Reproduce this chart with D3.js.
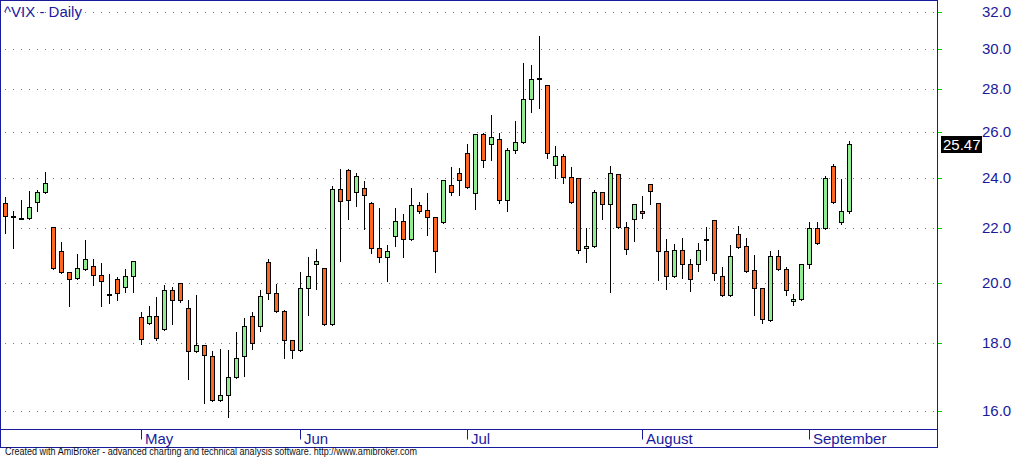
<!DOCTYPE html>
<html>
<head>
<meta charset="utf-8">
<script src="https://cdn.jsdelivr.net/npm/d3@7"></script>
<style>
  body { margin: 0; background: #fff; }
  svg { display: block; font-family: Arial, "Liberation Sans", sans-serif; }
</style>
</head>
<body>
<svg id="chart" width="1014" height="460"></svg>
<script>
// daily bars (mid April .. early September)
const opens = [
  22.97, 22.45, 22.40, 22.38, 23.02, 23.40, 22.04, 21.12, 20.37, 20.16,
  20.48, 20.61, 20.27, 19.60, 20.13, 19.85, 20.23, 18.84, 18.65, 18.87,
  18.46, 19.75, 19.99, 19.14, 17.77, 17.96, 17.62, 16.31, 16.45, 16.97,
  17.62, 18.87, 18.55, 20.75, 19.64, 19.03, 18.12, 17.80, 19.82, 20.65,
  20.54, 18.62, 23.53, 24.32, 23.40, 23.57, 22.97, 21.24, 20.93, 21.69,
  22.27, 21.58, 22.88, 22.69, 22.42, 22.23, 23.70, 24.20, 25.08, 23.36,
  25.90, 25.44, 25.67, 23.11, 25.18, 25.53, 27.51, 28.50, 28.19, 24.53,
  24.95, 24.03, 23.99, 21.24, 21.31, 23.40, 22.92, 24.15, 22.04, 22.34,
  22.65, 23.74, 22.97, 21.12, 20.23, 21.16, 20.65, 20.65, 21.57, 22.31,
  20.23, 19.57, 21.77, 21.31, 20.44, 19.82, 18.74, 20.96, 20.48, 19.37,
  19.43, 20.65, 22.00, 22.00, 24.49, 22.23, 22.65
];
const highs = [
  23.25, 22.70, 23.15, 23.50, 23.53, 24.29, 22.06, 21.51, 20.39, 21.07,
  21.59, 20.90, 20.72, 20.34, 20.24, 20.51, 20.81, 19.03, 19.26, 19.54,
  19.95, 19.89, 20.01, 19.43, 19.61, 17.98, 17.80, 17.87, 17.84, 18.38,
  18.84, 19.03, 19.78, 20.89, 19.99, 19.10, 18.15, 20.41, 20.96, 21.24,
  20.56, 23.70, 24.40, 24.40, 24.24, 23.90, 23.06, 22.80, 21.39, 22.80,
  22.57, 23.62, 23.06, 23.40, 22.44, 23.92, 24.49, 24.46, 25.49, 25.92,
  25.99, 26.82, 25.99, 25.31, 26.53, 29.36, 29.26, 30.75, 28.21, 25.40,
  25.08, 24.49, 24.01, 22.04, 23.53, 23.42, 24.53, 24.17, 22.27, 22.94,
  23.28, 23.78, 22.99, 21.62, 21.43, 21.66, 20.89, 21.47, 22.08, 22.33,
  20.61, 21.39, 22.11, 21.66, 21.03, 19.84, 21.17, 21.20, 20.61, 19.64,
  20.68, 22.27, 22.27, 24.11, 24.61, 23.99, 25.63
];
const lows = [
  21.81, 21.24, 22.38, 22.36, 22.67, 23.38, 20.49, 20.35, 19.21, 20.14,
  20.46, 19.92, 19.21, 19.30, 19.40, 19.68, 19.70, 17.99, 18.63, 18.12,
  18.43, 18.62, 19.33, 16.91, 17.75, 16.22, 16.28, 16.29, 15.83, 16.95,
  17.00, 17.83, 18.40, 19.44, 19.00, 17.55, 17.55, 17.78, 18.90, 19.78,
  18.60, 18.60, 20.79, 22.34, 22.86, 21.96, 21.08, 20.75, 20.05, 21.31,
  20.93, 21.56, 22.57, 21.73, 20.37, 22.19, 23.28, 23.28, 23.59, 22.73,
  24.45, 24.74, 22.99, 22.65, 25.08, 25.50, 26.92, 27.08, 24.86, 23.99,
  23.78, 22.99, 21.08, 20.75, 21.29, 22.34, 19.68, 22.00, 21.01, 21.50,
  22.38, 22.95, 20.09, 19.78, 20.21, 20.16, 19.71, 20.41, 20.82, 20.09,
  19.55, 19.55, 21.25, 20.39, 18.93, 18.65, 18.72, 20.46, 19.57, 19.23,
  19.41, 20.51, 21.41, 21.96, 22.97, 22.15, 22.57
];
const closes = [
  22.46, 22.43, 22.39, 22.80, 23.40, 23.78, 20.51, 20.37, 20.13, 20.51,
  20.86, 20.27, 20.06, 19.58, 19.64, 20.23, 20.79, 18.15, 18.87, 18.18,
  19.75, 19.40, 19.40, 17.77, 17.96, 17.65, 16.31, 16.45, 16.97, 17.55,
  18.55, 18.02, 19.54, 19.64, 19.03, 18.12, 17.80, 19.82, 20.23, 20.79,
  18.62, 23.53, 23.07, 23.11, 24.07, 23.28, 21.24, 20.93, 21.12, 22.27,
  21.58, 22.88, 22.65, 22.42, 21.12, 23.90, 23.40, 23.90, 23.61, 25.90,
  24.74, 25.76, 23.11, 25.18, 25.53, 27.51, 28.49, 28.53, 25.05, 24.95,
  24.03, 23.01, 21.16, 21.31, 23.40, 22.92, 24.20, 22.04, 21.20, 22.92,
  22.57, 23.45, 21.12, 20.23, 21.16, 20.65, 20.13, 21.16, 21.59, 20.34,
  19.57, 20.96, 21.27, 20.41, 19.82, 18.77, 20.96, 20.48, 19.75, 19.43,
  20.65, 22.00, 21.43, 23.99, 23.01, 22.65, 25.47
];

const priceTicks = [16, 18, 20, 22, 24, 26, 28, 30, 32];
const monthLabels = ["May", "Jun", "Jul", "August", "September"];
const monthStartBars = [17, 37, 58, 80, 101];

const title = "^VIX - Daily";
const footer = "Created with AmiBroker - advanced charting and technical analysis software. http://www.amibroker.com";

const axisColor = "#1a1a9c";
const gridColor = "#00d000";
const upColor = "#90ee90";
const downColor = "#ff6622";

const plot = { left: 0.5, right: 937.5, top: 0.5, bottom: 429.5, axisBottom: 447.5 };

const bars = opens.map((o, i) => ({ i, o, h: highs[i], l: lows[i], c: closes[i] }));

const svg = d3.select("#chart");

const x = d3.scaleLinear()
  .domain([0, bars.length - 1])
  .range([6.2, 850.2]);

const y = d3.scaleLog()
  .domain([16, 32])
  .range([411.3, 12.3]);

const px = i => Math.round(x(i));
const py = v => Math.round(y(v)) + 0.5;

// dotted grid: one green pixel every 8px, plus small ticks on the right edge
const grid = svg.append("g").attr("shape-rendering", "crispEdges");
const dotXs = d3.range(5, plot.right - 1, 8);

grid.selectAll("g")
  .data(priceTicks)
  .join("g")
  .attr("transform", d => `translate(0,${Math.round(y(d))})`)
  .selectAll("rect")
  .data(dotXs)
  .join("rect")
  .attr("x", d => d)
  .attr("y", 0)
  .attr("width", 1)
  .attr("height", 1)
  .attr("fill", gridColor);

grid.selectAll("line.tick")
  .data(priceTicks)
  .join("line")
  .attr("class", "tick")
  .attr("x1", plot.right)
  .attr("x2", plot.right + 4)
  .attr("y1", d => py(d))
  .attr("y2", d => py(d))
  .attr("stroke", gridColor);

// price labels
svg.append("g")
  .selectAll("text")
  .data(priceTicks)
  .join("text")
  .attr("x", 982)
  .attr("y", d => Math.round(y(d)))
  .attr("dy", "0.36em")
  .attr("fill", axisColor)
  .style("font-size", "15px")
  .text(d3.format(".1f"));

// candles
const candle = svg.append("g")
  .attr("shape-rendering", "crispEdges")
  .selectAll("g")
  .data(bars)
  .join("g");

candle.append("line")
  .attr("x1", d => px(d.i) - 0.5)
  .attr("x2", d => px(d.i) - 0.5)
  .attr("y1", d => py(d.h))
  .attr("y2", d => py(d.l))
  .attr("stroke", "#000");

candle.append("rect")
  .attr("x", d => px(d.i) - 2.5)
  .attr("width", 4)
  .attr("y", d => Math.min(py(d.o), py(d.c)))
  .attr("height", d => Math.max(1, Math.abs(py(d.o) - py(d.c))))
  .attr("fill", d => d.c >= d.o ? upColor : downColor)
  .attr("stroke", "#000");

// frame
const frame = svg.append("g")
  .attr("fill", "none")
  .attr("stroke", axisColor)
  .attr("shape-rendering", "crispEdges");

frame.append("rect")
  .attr("x", plot.left)
  .attr("y", plot.top)
  .attr("width", plot.right - plot.left)
  .attr("height", plot.axisBottom - plot.top);

frame.append("line")
  .attr("x1", plot.left)
  .attr("x2", plot.right)
  .attr("y1", plot.bottom)
  .attr("y2", plot.bottom);

// month axis
const month = svg.append("g")
  .selectAll("g")
  .data(monthStartBars.map((b, k) => ({ b, label: monthLabels[k] })))
  .join("g");

month.append("line")
  .attr("x1", d => px(d.b) - 0.5)
  .attr("x2", d => px(d.b) - 0.5)
  .attr("y1", plot.bottom)
  .attr("y2", plot.bottom + 10)
  .attr("stroke", axisColor);

month.append("text")
  .attr("x", d => px(d.b) + 3)
  .attr("y", 444)
  .attr("fill", axisColor)
  .style("font-size", "15px")
  .text(d => d.label);

// last close marker
const last = bars[bars.length - 1];
const lastY = Math.round(y(last.c));
svg.append("rect")
  .attr("x", 941)
  .attr("y", lastY - 8)
  .attr("width", 41)
  .attr("height", 17)
  .attr("fill", "#000");

svg.append("text")
  .attr("x", 943)
  .attr("y", lastY + 6)
  .attr("fill", "#fff")
  .style("font-size", "15px")
  .text(last.c.toFixed(2));

// title + footer
svg.append("text")
  .attr("x", 4)
  .attr("y", 17)
  .attr("fill", axisColor)
  .style("font-size", "15px")
  .text(title);

svg.append("text")
  .attr("x", 5)
  .attr("y", 455)
  .attr("fill", "#111")
  .attr("textLength", 412)
  .attr("lengthAdjust", "spacingAndGlyphs")
  .style("font-size", "10.5px")
  .text(footer);
</script>
</body>
</html>
